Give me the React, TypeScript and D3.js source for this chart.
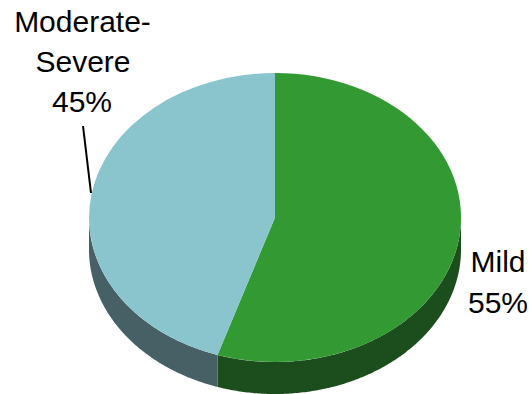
import React from "react";
import * as d3 from "d3";

const categories = ["Mild", "Moderate-Severe"];
const shares = [55, 45];
const topColors = ["#339933", "#8ac5ce"];
const sideColors = ["#1c4d1c", "#466066"];

const W = 529;
const H = 394;
const cx = 275;
const cy = 217.5;
const rx = 186;
const ry = 144.5;
const depth = 32;

const slices = d3.pie<number>().sort(null)(shares);
const unitArc = d3.arc<d3.PieArcDatum<number>>().innerRadius(0).outerRadius(1);

// Tilted rim of a slice: the visible front part of its edge, pushed down by the depth.
function rimPath(start: number, end: number): string {
  const a0 = Math.max(start, Math.PI / 2);
  const a1 = Math.min(end, (3 * Math.PI) / 2);
  if (a1 <= a0) return "";
  const angles = d3.range(a0, a1, 0.01).concat(a1);
  const edge = angles.map((a) => [cx + rx * Math.sin(a), cy - ry * Math.cos(a)] as [number, number]);
  const lower = edge.map(([x, y]) => [x, y + depth] as [number, number]).reverse();
  return d3.line()([...edge, ...lower]) + "Z";
}

const textStyle = { fontFamily: "'Liberation Sans', Arial, sans-serif", fontSize: 30, fill: "#000" };

export default function App() {
  return (
    <svg width={W} height={H} viewBox={`0 0 ${W} ${H}`} style={{ position: "absolute", left: 0, top: 0, background: "#fff" }}>
      {slices.map((s, i) => (
        <path key={`rim-${categories[i]}`} d={rimPath(s.startAngle, s.endAngle)} fill={sideColors[i]} />
      ))}
      <g transform={`translate(${cx},${cy}) scale(${rx},${ry})`}>
        {slices.map((s, i) => (
          <path key={categories[i]} d={unitArc(s) ?? ""} fill={topColors[i]} />
        ))}
      </g>
      <line x1={83} y1={126} x2={91} y2={193} stroke="#000" strokeWidth={2} />
      <g textAnchor="middle" style={textStyle}>
        <text x={82.5} y={32}>Moderate-</text>
        <text x={83} y={72}>Severe</text>
        <text x={82} y={112}>{shares[1]}%</text>
        <text x={498} y={272}>{categories[0]}</text>
        <text x={498} y={313}>{shares[0]}%</text>
      </g>
    </svg>
  );
}
